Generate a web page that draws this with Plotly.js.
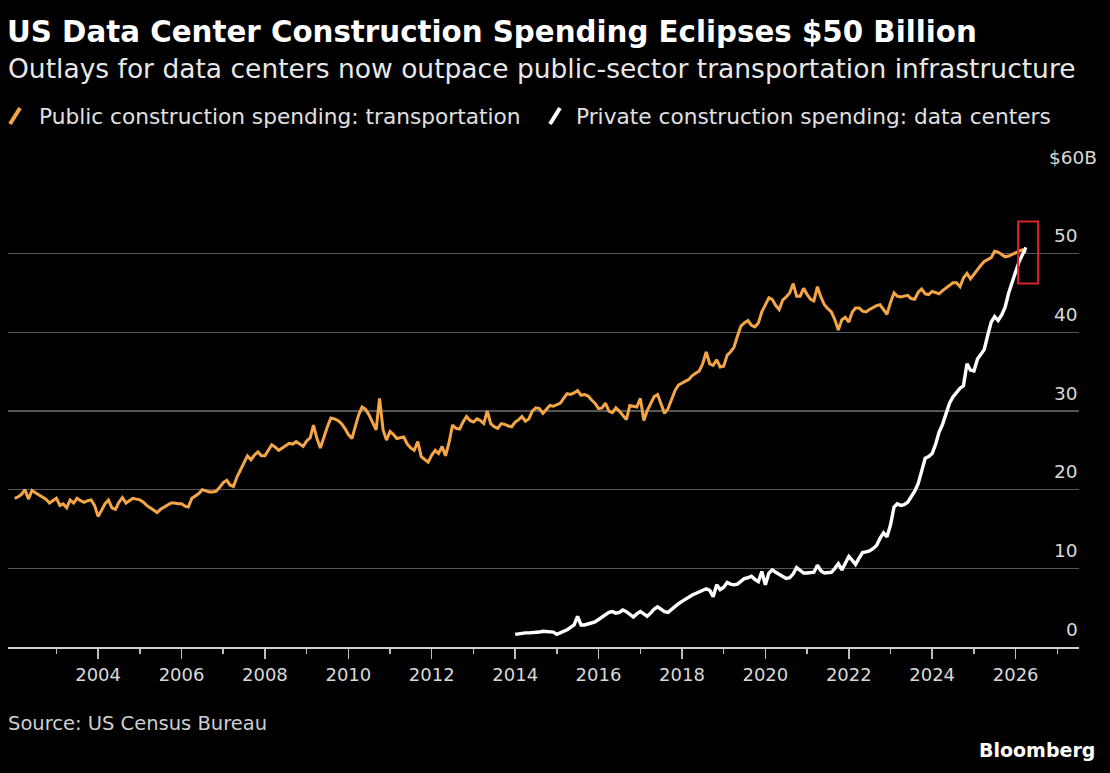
<!DOCTYPE html>
<html>
<head>
<meta charset="utf-8">
<script src="https://cdn.plot.ly/plotly-3.0.1.min.js"></script>
<style>
  html, body { margin: 0; padding: 0; background: #000; }
  #chart { width: 1110px; height: 773px; }
</style>
</head>
<body>
<div id="chart"></div>
<script>
// Monthly construction spending, seasonally adjusted annual rate, $ billions
const transportStart = [2002, 1];
const transportValues = [
  18.9,19.1,19.4,20.0,18.8,19.9,19.6,19.3,19.0,18.8,18.3,18.6, // 2002
  18.9,18.0,18.2,17.7,18.7,18.3,18.9,18.6,18.4,18.6,18.7,18.0, // 2003
  16.6,17.4,18.2,18.7,17.7,17.5,18.4,19.0,18.3,18.6,18.9,18.8, // 2004
  18.7,18.4,18.0,17.7,17.4,17.1,17.5,17.8,18.0,18.3,18.3,18.2, // 2005
  18.2,17.9,17.8,18.9,19.2,19.5,20.0,19.8,19.7,19.7,19.8,20.3, // 2006
  20.9,21.2,20.6,20.4,21.6,22.5,23.5,24.3,23.8,24.4,24.8,24.3, // 2007
  24.3,25.0,25.7,25.4,25.0,25.3,25.6,25.9,25.8,26.1,25.8,25.5, // 2008
  26.2,26.6,28.2,26.5,25.3,26.8,28.0,29.1,29.0,28.8,28.4,27.8, // 2009
  27.0,26.5,27.8,29.5,30.5,30.2,29.5,28.6,27.6,31.6,27.6,26.3, // 2010
  27.4,27.0,26.5,26.6,26.7,25.8,25.3,25.0,26.1,24.2,23.9,23.5, // 2011
  24.4,25.0,24.6,25.5,24.3,26.0,28.2,27.8,27.7,28.6,29.3,28.8, // 2012
  28.6,29.0,28.8,28.4,30.0,28.4,28.0,27.8,28.4,28.3,28.1,28.0, // 2013
  28.6,28.9,29.3,28.7,29.0,30.0,30.4,30.3,29.7,30.2,30.7,30.6, // 2014
  30.8,31.0,31.6,32.2,32.1,32.3,32.6,32.0,32.1,31.9,31.4,31.0, // 2015
  30.3,30.4,31.0,30.0,29.8,30.4,30.0,29.5,28.9,30.7,30.6,30.5, // 2016
  31.6,28.8,30.0,31.0,31.8,32.1,30.8,29.7,30.3,31.5,32.6,33.3, // 2017
  33.6,33.8,34.0,34.5,34.8,35.1,36.0,37.5,36.0,35.8,36.5,35.6, // 2018
  35.7,37.1,37.5,38.1,39.5,40.8,41.2,41.5,40.9,40.7,41.2,42.6, // 2019
  43.5,44.4,44.2,43.4,42.9,44.1,44.5,45.0,46.2,44.6,44.6,45.6, // 2020
  44.8,44.2,44.0,45.8,44.5,43.5,43.0,42.6,41.6,40.3,41.6,41.9, // 2021
  41.3,42.6,43.1,43.1,42.7,42.6,42.9,43.2,43.4,43.5,42.9,42.3, // 2022
  43.8,45.0,44.6,44.5,44.6,44.7,44.3,44.2,45.1,45.5,44.9,44.8, // 2023
  45.2,45.0,44.9,45.3,45.6,46.0,46.3,46.3,45.8,46.9,47.5,46.8, // 2024
  47.4,48.1,48.5,49.0,49.3,49.5,50.3,50.2,49.9,49.6,49.7,49.9, // 2025
  50.2,50.4,50.5,50.1                                          // 2026
];

const dataCenterStart = [2014, 1];
const dataCenterValues = [
  1.6,1.7,1.7,1.8,1.8,1.8,1.9,1.9,2.0,2.0,1.9,1.9,             // 2014
  1.6,1.8,2.0,2.2,2.5,2.8,3.9,2.8,2.8,2.9,3.0,3.2,             // 2015
  3.5,3.8,4.1,4.4,4.5,4.3,4.4,4.7,4.5,4.1,3.8,4.2,             // 2016
  4.5,4.2,3.9,4.3,4.8,5.1,4.8,4.5,4.4,4.8,5.2,5.5,             // 2017
  5.8,6.1,6.4,6.6,6.8,7.0,7.1,7.4,7.2,6.4,7.9,7.3,             // 2018
  7.6,8.2,8.0,7.9,8.0,8.4,8.7,8.8,9.0,8.6,8.3,9.6,             // 2019
  7.9,9.4,9.8,9.5,9.2,8.9,8.7,8.8,9.3,10.1,9.7,9.4,            // 2020
  9.4,9.4,9.5,10.4,9.7,9.4,9.4,9.5,10.0,10.6,9.8,10.6,         // 2021
  11.5,11.0,10.5,11.3,12.0,12.1,12.2,12.5,12.9,13.8,14.5,14.0, // 2022
  15.5,17.8,18.2,18.0,18.1,18.4,19.0,19.8,20.8,22.5,24.0,24.2, // 2023
  24.6,25.8,27.3,28.3,29.6,31.0,31.8,32.4,32.9,33.2,36.0,35.2, // 2024
  35.1,36.6,37.1,37.8,39.6,41.3,42.0,41.5,42.2,43.2,45.0,46.5, // 2025
  47.7,49.0,49.9,50.8                                          // 2026
];

const seriesNames = [
  'Public construction spending: transportation',
  'Private construction spending: data centers'
];
const seriesColors = ['#f4a647', '#ffffff'];

const xTickYears = [2004,2006,2008,2010,2012,2014,2016,2018,2020,2022,2024,2026];
const xMinorYears = [2003,2005,2007,2009,2011,2013,2015,2017,2019,2021,2023,2025,2027];
const yTickVals = [0,10,20,30,40,50,60];
const yTickText = ['0','10','20','30','40','50','$60B'];

// Highlighted crossover window
const highlight = { x0: '2026-01-23', x1: '2026-07-17', y0: 46.2, y1: 54.1 };

function monthlyDates(start, n) {
  const out = [];
  let y = start[0], m = start[1];
  for (let i = 0; i < n; i++) {
    out.push(y + '-' + String(m).padStart(2, '0') + '-01');
    m++;
    if (m > 12) { m = 1; y++; }
  }
  return out;
}

const FONT = 'DejaVu Sans, Verdana, sans-serif';

// plot area in pixels
const L = 8, R = 1079, T = 175, B = 647;
const px = x => (x - L) / (R - L);
const py = y => (B - y) / (B - T);

const traces = [
  {
    x: monthlyDates(transportStart, transportValues.length),
    y: transportValues,
    name: seriesNames[0],
    type: 'scatter', mode: 'lines',
    line: { color: seriesColors[0], width: 3 },
    hoverinfo: 'skip'
  },
  {
    x: monthlyDates(dataCenterStart, dataCenterValues.length),
    y: dataCenterValues,
    name: seriesNames[1],
    type: 'scatter', mode: 'lines',
    line: { color: seriesColors[1], width: 3.4 },
    hoverinfo: 'skip'
  }
];

const annotations = [];
annotations.push({
  text: 'Outlays for data centers now outpace public-sector transportation infrastructure',
  xref: 'paper', yref: 'paper', x: px(6), y: py(68),
  xanchor: 'left', yanchor: 'middle', showarrow: false,
  font: { family: FONT, size: 26.5, color: '#e8e8e8' }
});
annotations.push({
  text: seriesNames[0],
  xref: 'paper', yref: 'paper', x: px(37), y: py(116),
  xanchor: 'left', yanchor: 'middle', showarrow: false,
  font: { family: FONT, size: 21.7, color: '#e0e0e0' }
});
annotations.push({
  text: seriesNames[1],
  xref: 'paper', yref: 'paper', x: px(574), y: py(116),
  xanchor: 'left', yanchor: 'middle', showarrow: false,
  font: { family: FONT, size: 21.7, color: '#e0e0e0' }
});
yTickVals.forEach((v, i) => {
  const last = i === yTickVals.length - 1;
  annotations.push({
    text: yTickText[i],
    xref: 'paper', yref: 'y', x: last ? px(1099) : px(1080), y: v,
    yshift: 18, xanchor: 'right', yanchor: 'middle', showarrow: false,
    font: { family: FONT, size: 18.5, color: '#d9d9d9' }
  });
});
annotations.push({
  text: 'Source: US Census Bureau',
  xref: 'paper', yref: 'paper', x: px(6), y: py(723),
  xanchor: 'left', yanchor: 'middle', showarrow: false,
  font: { family: FONT, size: 19.5, color: '#cfcfcf' }
});
annotations.push({
  text: '<b>Bloomberg</b>',
  xref: 'paper', yref: 'paper', x: px(1097), y: py(750),
  xanchor: 'right', yanchor: 'middle', showarrow: false,
  font: { family: FONT, size: 19, color: '#ffffff' }
});

const shapes = [
  // legend swatches
  { type: 'line', xref: 'paper', yref: 'paper',
    x0: px(10), y0: py(124), x1: px(20), y1: py(108),
    line: { color: seriesColors[0], width: 4 } },
  { type: 'line', xref: 'paper', yref: 'paper',
    x0: px(550), y0: py(124), x1: px(560), y1: py(108),
    line: { color: seriesColors[1], width: 4 } },
  // crossover box
  { type: 'rect', xref: 'x', yref: 'y',
    x0: highlight.x0, x1: highlight.x1, y0: highlight.y0, y1: highlight.y1,
    line: { color: '#d8262c', width: 2 }, fillcolor: 'rgba(0,0,0,0)' }
];

const layout = {
  width: 1110, height: 773,
  paper_bgcolor: '#000', plot_bgcolor: '#000',
  margin: { l: L, r: 1110 - R, t: T, b: 773 - B, pad: 0 },
  showlegend: false,
  title: {
    text: '<b>US Data Center Construction Spending Eclipses $50 Billion</b>',
    xref: 'container', yref: 'container',
    x: 7 / 1110, xanchor: 'left',
    y: 1 - 32 / 773, yanchor: 'middle',
    font: { family: FONT, size: 29.3, color: '#ffffff' }
  },
  xaxis: {
    type: 'date',
    range: ['2001-11-03', '2027-07-10'],
    tickvals: xTickYears.map(y => y + '-01-01'),
    ticktext: xTickYears.map(String),
    ticks: 'outside', ticklen: 10, tickwidth: 1.5, tickcolor: '#bdbdbd',
    minor: {
      tickvals: xMinorYears.map(y => y + '-01-01'),
      ticks: 'outside', ticklen: 5, tickwidth: 1.5, tickcolor: '#bdbdbd',
      showgrid: false
    },
    showline: true, linecolor: '#cfcfcf', linewidth: 2,
    showgrid: false, zeroline: false,
    tickfont: { family: FONT, size: 18, color: '#d9d9d9' },
    fixedrange: true
  },
  yaxis: {
    range: [0, 60],
    tickvals: yTickVals,
    showticklabels: false,
    ticks: '',
    showgrid: true, gridcolor: '#555555', gridwidth: 1.5,
    zeroline: false, showline: false,
    fixedrange: true
  },
  annotations: annotations,
  shapes: shapes
};

Plotly.newPlot('chart', traces, layout, { displayModeBar: false, staticPlot: true });
</script>
</body>
</html>
